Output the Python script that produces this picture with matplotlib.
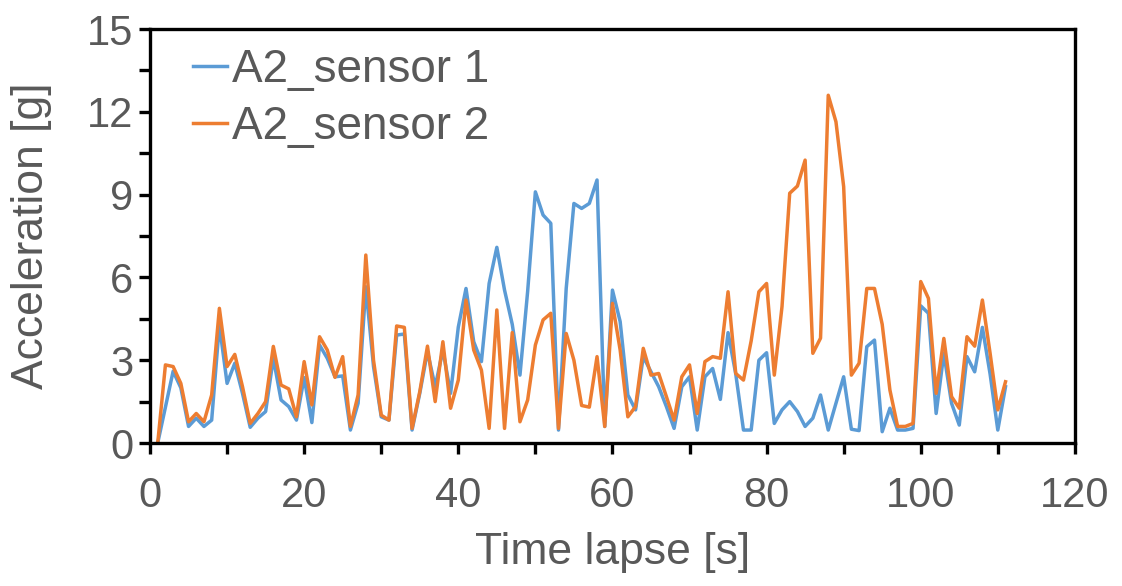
import matplotlib
matplotlib.use("Agg")
import matplotlib.pyplot as plt
from matplotlib.ticker import MultipleLocator

# time in seconds, one sample per second
t = list(range(1, 112))

sensor1 = [0.0, 1.3, 2.6, 2.0, 0.6, 0.9, 0.6, 0.83, 4.28, 2.16,
           2.89, 1.8, 0.57, 0.9, 1.14, 3.07, 1.56, 1.32, 0.83, 2.37,
           0.74, 3.55, 3.07, 2.4, 2.43, 0.47, 1.44, 5.66, 2.77, 0.95,
           0.83, 3.91, 3.95, 0.47, 1.8, 3.31, 2.04, 3.37, 1.8, 4.2,
           5.6, 3.67, 2.95, 5.78, 7.09, 5.54, 4.3, 2.46, 5.5, 9.1,
           8.26, 7.96, 0.47, 5.6, 8.68, 8.5, 8.68, 9.53, 0.6, 5.54,
           4.4, 1.74, 1.2, 3.13, 2.58, 2.04, 1.32, 0.53, 2.04, 2.4,
           0.47, 2.4, 2.7, 1.58, 4.0, 2.5, 0.47, 0.47, 3.0, 3.27,
           0.71, 1.2, 1.5, 1.14, 0.6, 0.9, 1.74, 0.47, 1.44, 2.4,
           0.5, 0.45, 3.49, 3.73, 0.41, 1.26, 0.47, 0.47, 0.53, 4.97,
           4.7, 1.07, 3.25, 1.44, 0.65, 3.13, 2.58, 4.19, 2.5, 0.47,
           2.04]

sensor2 = [0.0, 2.83, 2.77, 2.16, 0.77, 1.07, 0.77, 1.74, 4.88, 2.77,
           3.21, 2.04, 0.71, 1.07, 1.5, 3.5, 2.1, 1.96, 0.95, 2.95,
           1.38, 3.85, 3.37, 2.38, 3.13, 0.6, 1.74, 6.81, 3.0, 1.01,
           0.83, 4.24, 4.19, 0.53, 1.86, 3.51, 1.5, 3.67, 1.26, 2.28,
           5.18, 3.37, 2.64, 0.53, 4.82, 0.53, 4.0, 0.77, 1.56, 3.55,
           4.46, 4.7, 0.53, 3.97, 3.0, 1.36, 1.3, 3.13, 0.6, 5.06,
           3.37, 0.95, 1.32, 3.43, 2.46, 2.52, 1.68, 0.83, 2.4, 2.83,
           1.07, 2.95, 3.13, 3.07, 5.48, 2.52, 2.28, 3.7, 5.48, 5.78,
           2.46, 4.94, 9.05, 9.31, 10.25, 3.25, 3.8, 12.6, 11.64, 9.29,
           2.46, 2.89, 5.6, 5.6, 4.3, 1.92, 0.6, 0.6, 0.71, 5.85,
           5.24, 1.8, 3.79, 1.68, 1.26, 3.85, 3.51, 5.18, 3.25, 1.2,
           2.22]

plt.rcParams['font.family'] = ['Liberation Sans', 'DejaVu Sans']
grey = "#595959"

fig = plt.figure(figsize=(11.22, 5.86), dpi=100)
ax = fig.add_axes([0.1337, 0.244, 0.8243, 0.7065])

ax.plot(t, sensor1, color="#5B9BD5", lw=2.5, label="A2_sensor 1")
ax.plot(t, sensor2, color="#ED7D31", lw=2.5, label="A2_sensor 2")

ax.set_xlim(0, 120)
ax.set_ylim(0, 15)
ax.xaxis.set_major_locator(MultipleLocator(20))
ax.xaxis.set_minor_locator(MultipleLocator(10))
ax.yaxis.set_major_locator(MultipleLocator(3))
ax.yaxis.set_minor_locator(MultipleLocator(1.5))

for s in ax.spines.values():
    s.set_linewidth(2.4)
    s.set_color("black")
ax.tick_params(which="both", direction="out", width=2.4, length=8,
               colors="black", labelcolor=grey, labelsize=30)
ax.tick_params(axis="y", pad=4)
ax.tick_params(axis="x", pad=16)

ax.set_xlabel("Time lapse [s]", fontsize=32, color=grey)
ax.set_ylabel("Acceleration [g]", fontsize=32, color=grey)
ax.xaxis.set_label_coords(0.5, -0.215)
ax.yaxis.set_label_coords(-0.106, 0.5)

leg = ax.legend(loc="upper left", frameon=False, fontsize=33,
                handlelength=0.75, handletextpad=0.1, labelspacing=0.3,
                borderpad=0, borderaxespad=0,
                bbox_to_anchor=(0.046, 0.955))
for txt in leg.get_texts():
    txt.set_color(grey)

fig.savefig("out.png", dpi=100)
